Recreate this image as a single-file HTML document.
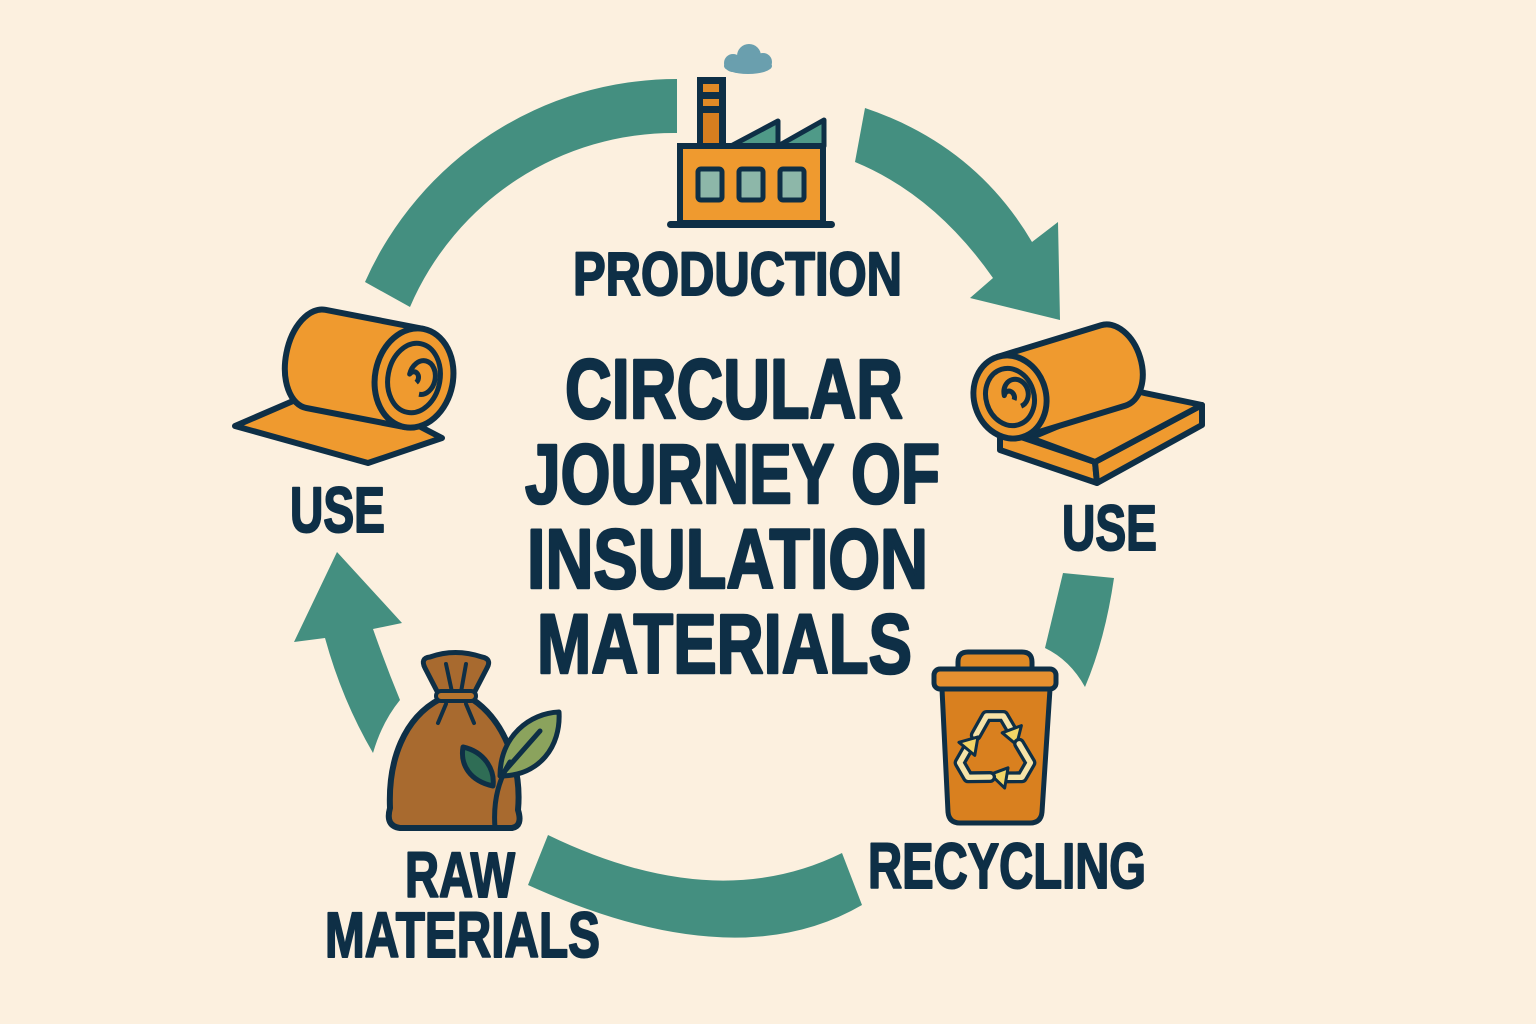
<!DOCTYPE html>
<html>
<head>
<meta charset="utf-8">
<style>
  html,body{margin:0;padding:0;background:#fcf0df;}
  svg{display:block;}
  .t{font-family:"Liberation Sans",Arial,sans-serif;font-weight:bold;fill:#0e2f46;stroke:#0e2f46;stroke-linejoin:round;}
  .big{stroke-width:2.6;}
  .sm{stroke-width:2;}
</style>
</head>
<body>
<svg width="1536" height="1024" viewBox="0 0 1536 1024" xmlns="http://www.w3.org/2000/svg">
  <rect x="0" y="0" width="1536" height="1024" fill="#fcf0df"/>

  <!-- ===== Arrows ===== -->
  <g fill="#448f80">
    <path d="M 677,79 A 341 341 0 0 0 365,282 L 410,307 A 287 287 0 0 1 677,133 Z"/>
    <path d="M 865,108 Q 975,145 1032,242 L 1058,222 L 1060,320 L 970,298 L 993,278 Q 935,195 855,162 Z"/>
    <path d="M 1063,573 L 1114,578 Q 1105,640 1085,687 Q 1070,660 1045,648 Z"/>
    <path d="M 548,835 Q 715,916 842,853 L 862,905 Q 735,979 528,885 Z"/>
    <path d="M 337,552 L 402,623 L 373,629 Q 386,666 400,700 Q 382,722 373,753 Q 342,700 325,638 L 294,642 Z"/>
  </g>

  <!-- ===== Factory ===== -->
  <g>
    <g fill="#6a9fae">
      <circle cx="733" cy="63" r="9"/>
      <circle cx="749" cy="56" r="12"/>
      <circle cx="763" cy="62" r="9"/>
      <ellipse cx="748" cy="66" rx="24" ry="8"/>
    </g>
    <rect x="697" y="77" width="29" height="72" fill="#0e2f46"/>
    <rect x="703" y="84" width="16" height="8" fill="#e08a26"/>
    <rect x="703" y="99" width="16" height="7" fill="#e08a26"/>
    <rect x="703" y="113" width="16" height="31" fill="#d67e1f"/>
    <polygon points="731,146 778,121 778,146" fill="#4f9a88" stroke="#0e2f46" stroke-width="5" stroke-linejoin="round"/>
    <polygon points="778,146 824,120 824,146" fill="#4f9a88" stroke="#0e2f46" stroke-width="5" stroke-linejoin="round"/>
    <rect x="680" y="146" width="143" height="77" fill="#ef9a2f" stroke="#0e2f46" stroke-width="6"/>
    <rect x="667" y="221" width="168" height="7" rx="3.5" fill="#0e2f46"/>
    <rect x="698" y="169" width="24" height="31" rx="3" fill="#8db7a9" stroke="#0e2f46" stroke-width="5"/>
    <rect x="739" y="169" width="24" height="31" rx="3" fill="#8db7a9" stroke="#0e2f46" stroke-width="5"/>
    <rect x="780" y="169" width="24" height="31" rx="3" fill="#8db7a9" stroke="#0e2f46" stroke-width="5"/>
  </g>

  <!-- ===== Left roll ===== -->
  <g stroke="#0e2f46" stroke-width="6" stroke-linejoin="round" fill="#ef9a2f">
    <polygon points="235,426 300,398 415,424 442,438 368,463"/>
    <g transform="translate(414,378) rotate(11)">
      <path d="M 0,-50 L -100,-50 A 30 50 0 0 0 -100,50 L 0,50 Z"/>
      <ellipse cx="0" cy="0" rx="39" ry="50"/>
      <ellipse cx="0" cy="0" rx="26" ry="35" fill="none" stroke-width="5"/>
      <path d="M 3,4 A 5 6 0 1 0 -5,-3 A 13 17 0 1 1 8,15" fill="none" stroke-width="5"/>
    </g>
  </g>

  <!-- ===== Right roll ===== -->
  <g stroke="#0e2f46" stroke-width="6" stroke-linejoin="round" fill="#ef9a2f">
    <polygon points="1000,430 1095,462 1097,483 1000,450"/>
    <polygon points="1095,462 1202,405 1202,425 1097,483"/>
    <polygon points="1030,438 1140,392 1202,405 1095,462"/>
    <g transform="translate(1010,397) rotate(-17)">
      <path d="M 0,-42 L 108,-42 A 28 42 0 0 1 108,42 L 0,42 Z"/>
      <ellipse cx="0" cy="0" rx="36" ry="42"/>
      <ellipse cx="0" cy="0" rx="24" ry="29" fill="none" stroke-width="5"/>
      <path d="M 3,4 A 5 6 0 1 0 -5,-3 A 12 14 0 1 1 8,12" fill="none" stroke-width="5"/>
    </g>
  </g>

  <!-- ===== Recycling bin ===== -->
  <g stroke="#0e2f46" stroke-width="5" stroke-linejoin="round">
    <path d="M 958,672 L 958,662 Q 958,652 968,652 L 1022,652 Q 1032,652 1032,662 L 1032,672 Z" fill="#e08a26"/>
    <path d="M 942,689 L 1050,689 L 1042,812 Q 1041,823 1030,823 L 960,823 Q 949,823 948,812 Z" fill="#d9801f"/>
    <rect x="934" y="669" width="122" height="20" rx="6" fill="#e59030"/>
  </g>
  <g transform="translate(995,752) scale(1.2)">
    <g>
      <path d="M -16,-14 L -7,-30 L 7,-30 L 14,-18" fill="none" stroke="#0e2f46" stroke-width="10" stroke-linejoin="round" stroke-linecap="round"/>
      <path d="M -16,-14 L -7,-30 L 7,-30 L 14,-18" fill="none" stroke="#f6e3a8" stroke-width="4.5" stroke-linejoin="round" stroke-linecap="round"/>
      <polygon points="6,-16 22,-22 18,-6" fill="#f2d566" stroke="#0e2f46" stroke-width="2.5" stroke-linejoin="round"/>
    </g>
    <g transform="rotate(120)">
      <path d="M -16,-14 L -7,-30 L 7,-30 L 14,-18" fill="none" stroke="#0e2f46" stroke-width="10" stroke-linejoin="round" stroke-linecap="round"/>
      <path d="M -16,-14 L -7,-30 L 7,-30 L 14,-18" fill="none" stroke="#f6e3a8" stroke-width="4.5" stroke-linejoin="round" stroke-linecap="round"/>
      <polygon points="6,-16 22,-22 18,-6" fill="#f2d566" stroke="#0e2f46" stroke-width="2.5" stroke-linejoin="round"/>
    </g>
    <g transform="rotate(240)">
      <path d="M -16,-14 L -7,-30 L 7,-30 L 14,-18" fill="none" stroke="#0e2f46" stroke-width="10" stroke-linejoin="round" stroke-linecap="round"/>
      <path d="M -16,-14 L -7,-30 L 7,-30 L 14,-18" fill="none" stroke="#f6e3a8" stroke-width="4.5" stroke-linejoin="round" stroke-linecap="round"/>
      <polygon points="6,-16 22,-22 18,-6" fill="#f2d566" stroke="#0e2f46" stroke-width="2.5" stroke-linejoin="round"/>
    </g>
  </g>

  <!-- ===== Sack ===== -->
  <g stroke="#0e2f46" stroke-linejoin="round" stroke-linecap="round">
    <path d="M 440,699 C 404,718 388,760 390,808 Q 385,826 400,828 L 512,828 Q 523,826 518,810 C 522,766 504,720 472,699 Z" fill="#a86a2f" stroke-width="6"/>
    <path d="M 440,697 L 425,668 Q 420,658 430,657 Q 455,648 482,657 Q 492,659 487,668 L 472,697 Z" fill="#a86a2f" stroke-width="5"/>
    <path d="M 446,664 L 452,692 M 466,664 L 461,692" fill="none" stroke-width="4"/>
    <rect x="436" y="691" width="40" height="10" rx="5" fill="#b6752f" stroke-width="4"/>
    <path d="M 446,704 L 438,723 M 466,704 L 474,723" fill="none" stroke-width="4"/>
    <path d="M 463,747 C 485,752 495,770 493,786 C 470,781 460,765 463,747 Z" fill="#2f6d55" stroke-width="5"/>
    <path d="M 500,776 C 500,736 530,713 559,712 C 561,746 540,776 500,776 Z" fill="#8ba35d" stroke-width="5"/>
    <path d="M 503,773 L 540,731" fill="none" stroke-width="5"/>
    <path d="M 495,828 Q 492,790 510,762" fill="none" stroke-width="5"/>
  </g>

  <!-- ===== Text ===== -->
  <text class="t sm" x="573" y="295" font-size="61" textLength="329" lengthAdjust="spacingAndGlyphs">PRODUCTION</text>
  <text class="t big" x="565" y="418" font-size="84" textLength="338" lengthAdjust="spacingAndGlyphs">CIRCULAR</text>
  <text class="t big" x="525" y="503" font-size="84" textLength="415" lengthAdjust="spacingAndGlyphs">JOURNEY OF</text>
  <text class="t big" x="527" y="588" font-size="84" textLength="401" lengthAdjust="spacingAndGlyphs">INSULATION</text>
  <text class="t big" x="537" y="673" font-size="84" textLength="375" lengthAdjust="spacingAndGlyphs">MATERIALS</text>

  <text class="t sm" x="290" y="532" font-size="64" textLength="95" lengthAdjust="spacingAndGlyphs">USE</text>
  <text class="t sm" x="1062" y="550" font-size="64" textLength="95" lengthAdjust="spacingAndGlyphs">USE</text>
  <text class="t sm" x="868" y="888" font-size="64" textLength="278" lengthAdjust="spacingAndGlyphs">RECYCLING</text>
  <text class="t sm" x="405" y="897" font-size="64" textLength="110" lengthAdjust="spacingAndGlyphs">RAW</text>
  <text class="t sm" x="325" y="957" font-size="64" textLength="275" lengthAdjust="spacingAndGlyphs">MATERIALS</text>
</svg>
</body>
</html>
